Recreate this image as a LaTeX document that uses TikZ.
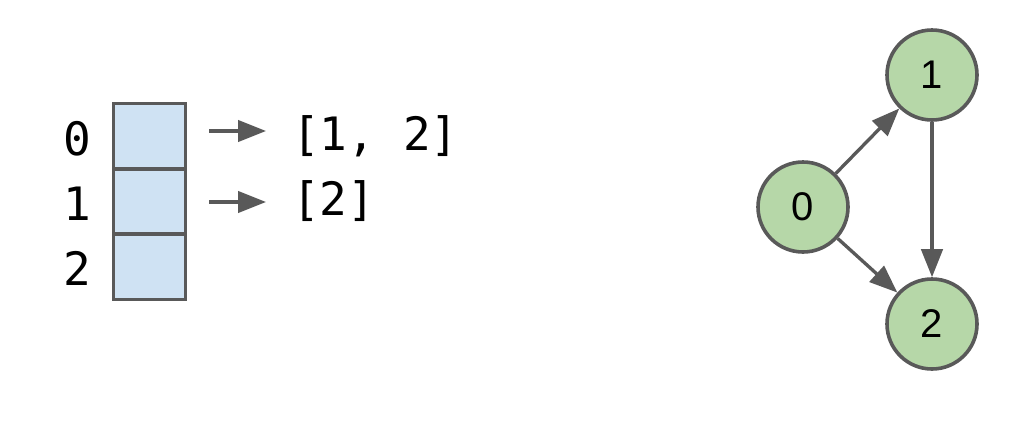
\documentclass[tikz,border=0pt]{standalone}
\usepackage{fontspec}
\setmainfont{Liberation Sans}
\setmonofont{DejaVu Sans Mono}
\usetikzlibrary{arrows.meta}
\definecolor{edgegray}{HTML}{595959}
\definecolor{cellblue}{HTML}{CFE2F3}
\definecolor{nodegreen}{HTML}{B6D7A8}
\tikzset{
  cellbox/.style={draw=edgegray, fill=cellblue, line width=2.8pt, minimum width=54pt, minimum height=49pt, inner sep=0pt},
  idxlabel/.style={font=\ttfamily\fontsize{34.5}{40}\selectfont, anchor=base, inner sep=0pt},
  listtext/.style={font=\ttfamily\fontsize{34.5}{40}\selectfont, anchor=base west, inner sep=0pt},
  vertex/.style={circle, draw=edgegray, fill=nodegreen, line width=2.7pt, minimum size=67.5pt, inner sep=0pt, font=\fontsize{30}{35}\selectfont},
  arr/.style={draw=edgegray, line width=2.5pt, -{Triangle[length=21pt, width=16pt]}}
}
\begin{document}
\begin{tikzpicture}[x=0.75pt, y=-0.75pt]
\useasboundingbox (0,0) rectangle (1024,422);
% adjacency array
\node[cellbox] (cell0) at (149.5,136.2) {};
\node[cellbox] (cell1) at (149.5,201.5) {};
\node[cellbox] (cell2) at (149.5,266.8) {};
\node[idxlabel] (lab0) at (77,155) {0};
\node[idxlabel] (lab1) at (77,220) {1};
\node[idxlabel] (lab2) at (77,285) {2};
% list arrows
\coordinate (a0s) at (209,131);
\coordinate (a0e) at (266,131);
\coordinate (a1s) at (209,202);
\coordinate (a1e) at (266,202);
\draw[arr] (a0s) -- (a0e);
\draw[arr] (a1s) -- (a1e);
\node[listtext] (list0) at (292,150) {[1, 2]};
\node[listtext] (list1) at (292,215) {[2]};
% graph
\node[vertex] (n0) at (803,207) {0};
\node[vertex] (n1) at (932,75) {1};
\node[vertex] (n2) at (932,324) {2};
\draw[arr] (n0) -- (n1);
\draw[arr] (n0) -- (n2);
\draw[arr] (n1) -- (n2);
\end{tikzpicture}
\end{document}
